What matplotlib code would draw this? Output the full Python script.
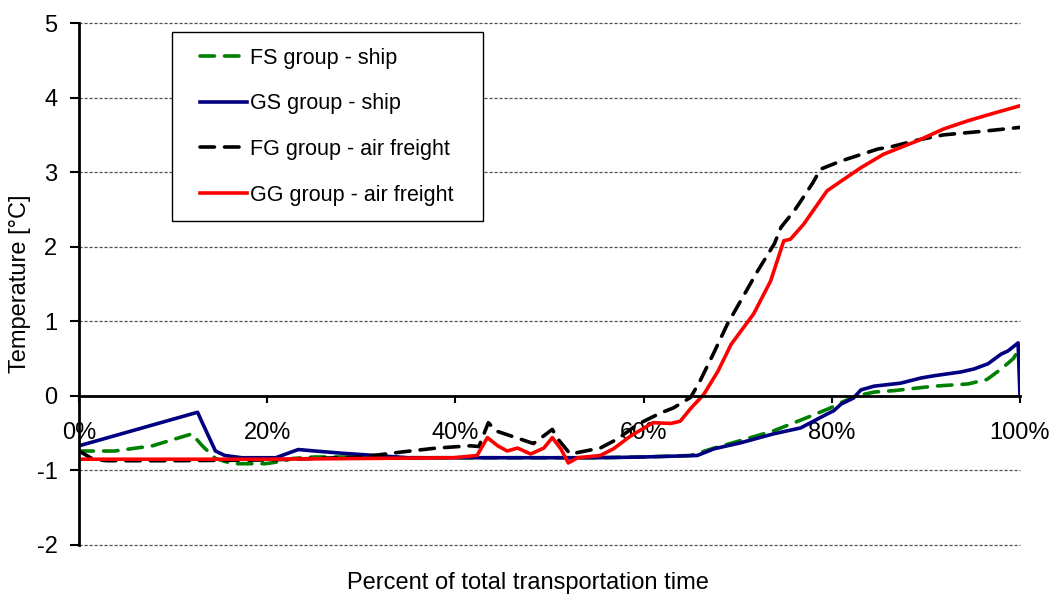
import matplotlib
matplotlib.use('Agg')
from matplotlib import pyplot as plt
from matplotlib.lines import Line2D
from matplotlib.legend_handler import HandlerLine2D

plt.rcParams['font.family'] = ['Liberation Sans', 'DejaVu Sans']
plt.rcParams['axes.unicode_minus'] = False

# percent of transportation time / temperature
fs_x = [0, 3.8, 7.8, 12, 13.1, 14.5, 16.3, 19.8, 21.5, 22.7, 25, 30, 35, 45, 55, 60, 65,
        67.5, 70.3, 73.8, 77.4, 79.9, 81, 82.6, 84.5, 86.6, 90.9, 94.5, 96.5, 98, 99.3, 100]
fs_y = [-0.74, -0.74, -0.67, -0.51, -0.67, -0.84, -0.91, -0.91, -0.88, -0.84, -0.82, -0.82,
        -0.83, -0.83, -0.83, -0.82, -0.8, -0.7, -0.6, -0.47, -0.29, -0.16, -0.09, 0.0, 0.05,
        0.07, 0.13, 0.16, 0.22, 0.36, 0.5, 0.65]

gs_x = [0, 12.6, 13.1, 14.5, 15.5, 17.3, 20.9, 23.3, 25.1, 28, 31.5, 35, 45, 55, 60, 65.7,
        67.5, 70.3, 73.8, 76.7, 79.1, 80.2, 81, 82.3, 83.1, 84.5, 87.3, 89.5, 90.9, 93.7,
        95.1, 96.6, 98, 98.7, 99.8, 100]
gs_y = [-0.67, -0.22, -0.36, -0.74, -0.8, -0.83, -0.83, -0.72, -0.74, -0.77, -0.8, -0.83,
        -0.83, -0.83, -0.82, -0.8, -0.71, -0.63, -0.51, -0.43, -0.27, -0.2, -0.11, -0.03,
        0.08, 0.13, 0.17, 0.24, 0.27, 0.32, 0.36, 0.43, 0.56, 0.6, 0.71, 0.0]

fg_x = [0, 1.5, 3, 10, 20, 30, 34.5, 38, 41.6, 42.5, 43.5, 44.3, 46.9, 48.3, 50.3, 50.9,
        52.2, 53, 55.4, 57.2, 59.4, 61.8, 63.2, 65, 66, 67.4, 68.9, 70.3, 72.1, 73.9, 74.6,
        76, 76.7, 78, 78.8, 81, 82.7, 84.9, 86.3, 89.1, 91.9, 96.2, 100]
fg_y = [-0.74, -0.85, -0.87, -0.87, -0.86, -0.82, -0.75, -0.7, -0.67, -0.68, -0.36, -0.47,
        -0.58, -0.64, -0.45, -0.58, -0.78, -0.76, -0.7, -0.58, -0.38, -0.23, -0.16, -0.02,
        0.2, 0.56, 0.96, 1.27, 1.67, 2.04, 2.26, 2.48, 2.61, 2.86, 3.04, 3.15, 3.22, 3.31,
        3.34, 3.43, 3.5, 3.55, 3.6]

gg_x = [0, 10, 20, 30, 39.8, 42.3, 43.4, 44.5, 45.5, 46.6, 48, 49.4, 50.3, 51.2, 52, 53,
        55.4, 56.8, 58.6, 61, 62.9, 63.9, 65, 66.4, 67.9, 69.3, 71.7, 73.5, 74.9, 75.6, 77,
        79.5, 81, 83.1, 85.5, 89.1, 91.9, 94.5, 97.2, 100]
gg_y = [-0.85, -0.85, -0.85, -0.84, -0.83, -0.8, -0.56, -0.67, -0.74, -0.7, -0.78, -0.7,
        -0.56, -0.71, -0.9, -0.83, -0.8, -0.71, -0.54, -0.36, -0.37, -0.34, -0.17, 0.02,
        0.33, 0.69, 1.1, 1.54, 2.08, 2.1, 2.3, 2.75, 2.88, 3.06, 3.24, 3.42, 3.58, 3.69,
        3.79, 3.89]

x_ticks = [0, 20, 40, 60, 80, 100]
x_labels = ['0%', '20%', '40%', '60%', '80%', '100%']
y_ticks = [-2, -1, 0, 1, 2, 3, 4, 5]

fig = plt.figure(figsize=(10.55, 5.96), dpi=100)
ax = fig.add_axes([0.0749, 0.0856, 0.8919, 0.8758])

ax.plot(fs_x, fs_y, color='#008000', lw=2.6, dashes=(4, 2.8), dash_capstyle='round',
        label='FS group - ship')
ax.plot(gs_x, gs_y, color='#000080', lw=2.6, label='GS group - ship')
ax.plot(fg_x, fg_y, color='black', lw=2.6, dashes=(4, 2.8), dash_capstyle='round',
        label='FG group - air freight')
ax.plot(gg_x, gg_y, color='#ff0000', lw=2.6, label='GG group - air freight')

ax.set_xlim(0, 100)
ax.set_ylim(-2, 5)
ax.set_xticks(x_ticks)
ax.set_xticklabels(x_labels)
ax.set_yticks(y_ticks)

ax.spines['bottom'].set_position(('data', 0))
ax.spines['top'].set_visible(False)
ax.spines['right'].set_visible(False)
ax.spines['left'].set_linewidth(2)
ax.spines['bottom'].set_linewidth(2)
ax.tick_params(axis='x', direction='out', length=5, width=1.5, pad=14, labelsize=17)
ax.tick_params(axis='y', direction='out', length=6.5, width=1.5, pad=9, labelsize=17)

ax.yaxis.grid(True, linestyle=(0, (2.5, 1.5)), color='#505050', lw=0.9)
ax.set_axisbelow(True)
for gl in ax.get_ygridlines():
    gl.set_clip_on(False)

fig.text(528 / 1055, 1 - 583 / 596, 'Percent of total transportation time',
         ha='center', va='center', fontsize=17)
fig.text(20 / 1055, 1 - 284 / 596, 'Temperature [°C]', rotation=90,
         ha='center', va='center', fontsize=17)

leg = ax.legend(loc='upper left', bbox_to_anchor=(172 / 1055, 0.5, 311 / 1055, 1 - 32 / 596 - 0.5),
                bbox_transform=fig.transFigure, mode='expand', borderaxespad=0,
                fancybox=False, edgecolor='black', framealpha=1, fontsize=15.5,
                handlelength=2.74, handletextpad=0.15, labelspacing=1.14, borderpad=0.74,
                handler_map={Line2D: HandlerLine2D(xpad=0.56)})
leg.get_frame().set_linewidth(1.0)

fig.savefig('out.png', dpi=100)
